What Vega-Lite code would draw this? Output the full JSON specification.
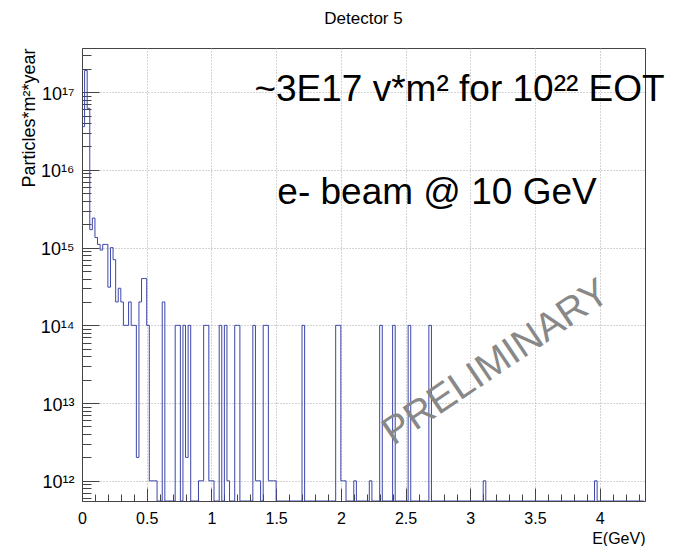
{
  "$schema": "https://vega.github.io/schema/vega-lite/v6.json",
  "width": 563,
  "height": 453,
  "autosize": {"type": "none"},
  "padding": {"left": 82, "top": 48, "right": 28, "bottom": 45},
  "background": "white",
  "title": {"text": "Detector 5", "font": "Liberation Sans", "fontSize": 17, "fontWeight": "normal", "color": "#000000", "anchor": "middle", "offset": 20},
  "config": {"view": {"stroke": "#444444", "strokeWidth": 1}, "font": "Liberation Sans"},
  "encoding": {
    "x": {
      "field": "E", "type": "quantitative",
      "scale": {"domain": [0, 4.35], "nice": false, "zero": false},
      "axis": {
        "values": [0,0.1,0.2,0.3,0.4,0.5,0.6,0.7,0.8,0.9,1,1.1,1.2,1.3,1.4,1.5,1.6,1.7,1.8,1.9,2,2.1,2.2,2.3,2.4,2.5,2.6,2.7,2.8,2.9,3,3.1,3.2,3.3,3.4,3.5,3.6,3.7,3.8,3.9,4,4.1,4.2,4.3],
        "format": "~g",
        "labelExpr": "datum.value*2 == round(datum.value*2) ? datum.label : ''",
        "labelFont": "Liberation Sans", "labelFontSize": 16, "labelColor": "#000000",
        "labelPadding": 22, "labelOverlap": false, "labelFlush": false,
        "tickSize": {"condition": {"test": "datum.value*2 == round(datum.value*2)", "value": -13}, "value": -7},
        "tickColor": "#444444", "domainColor": "#444444",
        "grid": true, "gridColor": "#a8a8a8", "gridDash": [1, 2],
        "gridOpacity": {"condition": {"test": "datum.value*2 == round(datum.value*2) && datum.value > 0", "value": 1}, "value": 0},
        "title": "E(GeV)", "titleAnchor": "end", "titleAlign": "right", "titleBaseline": "alphabetic", "titleX": 563, "titleY": 42,
        "titleFont": "Liberation Sans", "titleFontSize": 16, "titleFontWeight": "normal", "titleColor": "#000000"
      }
    },
    "y": {
      "field": "v", "type": "quantitative",
      "scale": {"type": "log", "domain": [5.5e11, 3.7e17], "nice": false, "clamp": true},
      "axis": {
        "values": [6e11,7e11,8e11,9e11,1e12,2e12,3e12,4e12,5e12,6e12,7e12,8e12,9e12,1e13,2e13,3e13,4e13,5e13,6e13,7e13,8e13,9e13,1e14,2e14,3e14,4e14,5e14,6e14,7e14,8e14,9e14,1e15,2e15,3e15,4e15,5e15,6e15,7e15,8e15,9e15,1e16,2e16,3e16,4e16,5e16,6e16,7e16,8e16,9e16,1e17,2e17,3e17],
        "labelExpr": "datum.value == 1e12 ? '10¹²' : datum.value == 1e13 ? '10¹³' : datum.value == 1e14 ? '10¹⁴' : datum.value == 1e15 ? '10¹⁵' : datum.value == 1e16 ? '10¹⁶' : datum.value == 1e17 ? '10¹⁷' : ''",
        "labelFont": "Liberation Sans", "labelFontSize": 18, "labelColor": "#000000",
        "labelPadding": 25, "labelOverlap": false, "labelFlush": false, "labelOffset": 2,
        "tickSize": {"condition": {"test": "indexof([1e12,1e13,1e14,1e15,1e16,1e17], datum.value) >= 0", "value": -17}, "value": -9},
        "tickColor": "#444444", "domainColor": "#444444",
        "grid": true, "gridColor": "#a8a8a8", "gridDash": [1, 2],
        "gridOpacity": {"condition": {"test": "indexof([1e12,1e13,1e14,1e15,1e16,1e17], datum.value) >= 0", "value": 1}, "value": 0},
        "title": "Particles*m²*year", "titleAnchor": "end", "titleFont": "Liberation Sans", "titleFontSize": 18, "titleFontWeight": "normal", "titleColor": "#000000", "titlePadding": 2
      }
    }
  },
  "layer": [
    {
      "data": {"values": [
        {"E":0,"v":3.6e16},{"E":0.02,"v":1.9e17},{"E":0.04,"v":6.2e16},{"E":0.06,"v":1.7e15},{"E":0.08,"v":2.4e15},
        {"E":0.1,"v":1.35e15},{"E":0.12,"v":1.1e15},{"E":0.14,"v":9.3e14},{"E":0.16,"v":1.1e15},{"E":0.18,"v":1.1e15},
        {"E":0.2,"v":3.1e14},{"E":0.22,"v":1e15},{"E":0.24,"v":7e14},{"E":0.26,"v":2e14},{"E":0.28,"v":3e14},
        {"E":0.3,"v":2e14},{"E":0.32,"v":1e14},{"E":0.34,"v":1e14},{"E":0.36,"v":2e14},{"E":0.38,"v":1e14},
        {"E":0.4,"v":1e14},{"E":0.42,"v":2e12},{"E":0.44,"v":2e14},{"E":0.46,"v":4e14},{"E":0.48,"v":4e14},
        {"E":0.5,"v":1e14},{"E":0.52,"v":1e12},{"E":0.54,"v":1e12},{"E":0.56,"v":1e12},{"E":0.58,"v":0},
        {"E":0.6,"v":0},{"E":0.62,"v":2e14},{"E":0.64,"v":0},{"E":0.66,"v":0},{"E":0.68,"v":0},
        {"E":0.7,"v":0},{"E":0.72,"v":1e14},{"E":0.74,"v":1e14},{"E":0.76,"v":0},{"E":0.78,"v":1e14},
        {"E":0.8,"v":2e12},{"E":0.82,"v":1e14},{"E":0.84,"v":0},{"E":0.86,"v":0},{"E":0.88,"v":0},
        {"E":0.9,"v":1e12},{"E":0.92,"v":1e12},{"E":0.94,"v":1e14},{"E":0.96,"v":1e14},{"E":0.98,"v":1e12},
        {"E":1,"v":1e12},{"E":1.02,"v":0},{"E":1.04,"v":0},{"E":1.06,"v":1e14},{"E":1.08,"v":0},
        {"E":1.1,"v":1e14},{"E":1.12,"v":1e12},{"E":1.14,"v":0},{"E":1.16,"v":0},{"E":1.18,"v":1e14},
        {"E":1.2,"v":1e14},{"E":1.22,"v":0},{"E":1.24,"v":0},{"E":1.26,"v":0},{"E":1.28,"v":0},
        {"E":1.3,"v":0},{"E":1.32,"v":1e14},{"E":1.34,"v":1e12},{"E":1.36,"v":1e12},{"E":1.38,"v":0},
        {"E":1.4,"v":1e14},{"E":1.42,"v":1e14},{"E":1.44,"v":1e12},{"E":1.46,"v":1e12},{"E":1.48,"v":1e12},
        {"E":1.5,"v":0},{"E":1.52,"v":0},{"E":1.54,"v":0},{"E":1.56,"v":0},{"E":1.58,"v":0},
        {"E":1.6,"v":0},{"E":1.62,"v":0},{"E":1.64,"v":0},{"E":1.66,"v":0},{"E":1.68,"v":0},
        {"E":1.7,"v":1e14},{"E":1.72,"v":0},{"E":1.74,"v":0},{"E":1.76,"v":0},{"E":1.78,"v":0},
        {"E":1.8,"v":0},{"E":1.82,"v":0},{"E":1.84,"v":0},{"E":1.86,"v":0},{"E":1.88,"v":0},
        {"E":1.9,"v":0},{"E":1.92,"v":0},{"E":1.94,"v":0},{"E":1.96,"v":1e14},{"E":1.98,"v":1e14},
        {"E":2,"v":1e12},{"E":2.02,"v":1e12},{"E":2.04,"v":0},{"E":2.06,"v":0},{"E":2.08,"v":0},
        {"E":2.1,"v":1e12},{"E":2.12,"v":0},{"E":2.14,"v":0},{"E":2.16,"v":0},{"E":2.18,"v":0},
        {"E":2.2,"v":0},{"E":2.22,"v":1e12},{"E":2.24,"v":0},{"E":2.26,"v":0},{"E":2.28,"v":0},
        {"E":2.3,"v":1e14},{"E":2.32,"v":0},{"E":2.34,"v":0},{"E":2.36,"v":0},{"E":2.38,"v":0},
        {"E":2.4,"v":1e14},{"E":2.42,"v":0},{"E":2.44,"v":0},{"E":2.46,"v":0},{"E":2.48,"v":0},
        {"E":2.5,"v":0},{"E":2.52,"v":1e14},{"E":2.54,"v":0},{"E":2.56,"v":0},{"E":2.58,"v":0},
        {"E":2.6,"v":0},{"E":2.62,"v":0},{"E":2.64,"v":0},{"E":2.66,"v":0},{"E":2.68,"v":1e14},
        {"E":2.7,"v":0},{"E":2.72,"v":0},{"E":2.74,"v":0},{"E":2.76,"v":0},{"E":2.78,"v":0},
        {"E":2.8,"v":0},{"E":2.82,"v":0},{"E":2.84,"v":0},{"E":2.86,"v":0},{"E":2.88,"v":0},
        {"E":2.9,"v":0},{"E":2.92,"v":0},{"E":2.94,"v":0},{"E":2.96,"v":0},{"E":2.98,"v":0},
        {"E":3,"v":0},{"E":3.02,"v":0},{"E":3.04,"v":0},{"E":3.06,"v":0},{"E":3.08,"v":0},
        {"E":3.1,"v":1e12},{"E":3.12,"v":0},{"E":3.14,"v":0},{"E":3.16,"v":0},{"E":3.18,"v":0},
        {"E":3.2,"v":0},{"E":3.22,"v":0},{"E":3.24,"v":0},{"E":3.26,"v":0},{"E":3.28,"v":0},
        {"E":3.3,"v":0},{"E":3.32,"v":0},{"E":3.34,"v":0},{"E":3.36,"v":0},{"E":3.38,"v":0},
        {"E":3.4,"v":0},{"E":3.42,"v":0},{"E":3.44,"v":0},{"E":3.46,"v":0},{"E":3.48,"v":0},
        {"E":3.5,"v":0},{"E":3.52,"v":0},{"E":3.54,"v":0},{"E":3.56,"v":0},{"E":3.58,"v":0},
        {"E":3.6,"v":0},{"E":3.62,"v":0},{"E":3.64,"v":0},{"E":3.66,"v":0},{"E":3.68,"v":0},
        {"E":3.7,"v":0},{"E":3.72,"v":0},{"E":3.74,"v":0},{"E":3.76,"v":0},{"E":3.78,"v":0},
        {"E":3.8,"v":0},{"E":3.82,"v":0},{"E":3.84,"v":0},{"E":3.86,"v":0},{"E":3.88,"v":0},
        {"E":3.9,"v":0},{"E":3.92,"v":0},{"E":3.94,"v":0},{"E":3.96,"v":1e12},{"E":3.98,"v":0},
        {"E":4,"v":0},{"E":4.02,"v":0},{"E":4.04,"v":0},{"E":4.06,"v":0},{"E":4.08,"v":0},
        {"E":4.1,"v":0},{"E":4.12,"v":0},{"E":4.14,"v":0},{"E":4.16,"v":0},{"E":4.18,"v":0},
        {"E":4.2,"v":0},{"E":4.22,"v":0},{"E":4.24,"v":0},{"E":4.26,"v":0},{"E":4.28,"v":0},
        {"E":4.3,"v":0},{"E":4.32,"v":0},{"E":4.34,"v":0}
      ]},
      "mark": {"type": "line", "interpolate": "step-after", "color": "#3c46a8", "strokeWidth": 1, "clip": true, "invalid": "show"}
    },
    {
      "data": {"values": [
        {"E": 2.917, "v": 7.7e16, "label": "~3E17 v*m² for 10²² EOT"},
        {"E": 2.743, "v": 3.6e15, "label": "e- beam @ 10 GeV"}
      ]},
      "mark": {"type": "text", "font": "Liberation Sans", "fontSize": 37, "align": "center", "baseline": "alphabetic", "color": "#000000", "clip": false},
      "encoding": {"text": {"field": "label"}}
    },
    {
      "data": {"values": [
        {"E": 3.25, "v": 2.5e13, "label": "PRELIMINARY"}
      ]},
      "mark": {"type": "text", "font": "Liberation Sans", "fontSize": 39, "align": "center", "baseline": "alphabetic", "angle": -34, "color": "#888888", "clip": false},
      "encoding": {"text": {"field": "label"}}
    }
  ]
}
